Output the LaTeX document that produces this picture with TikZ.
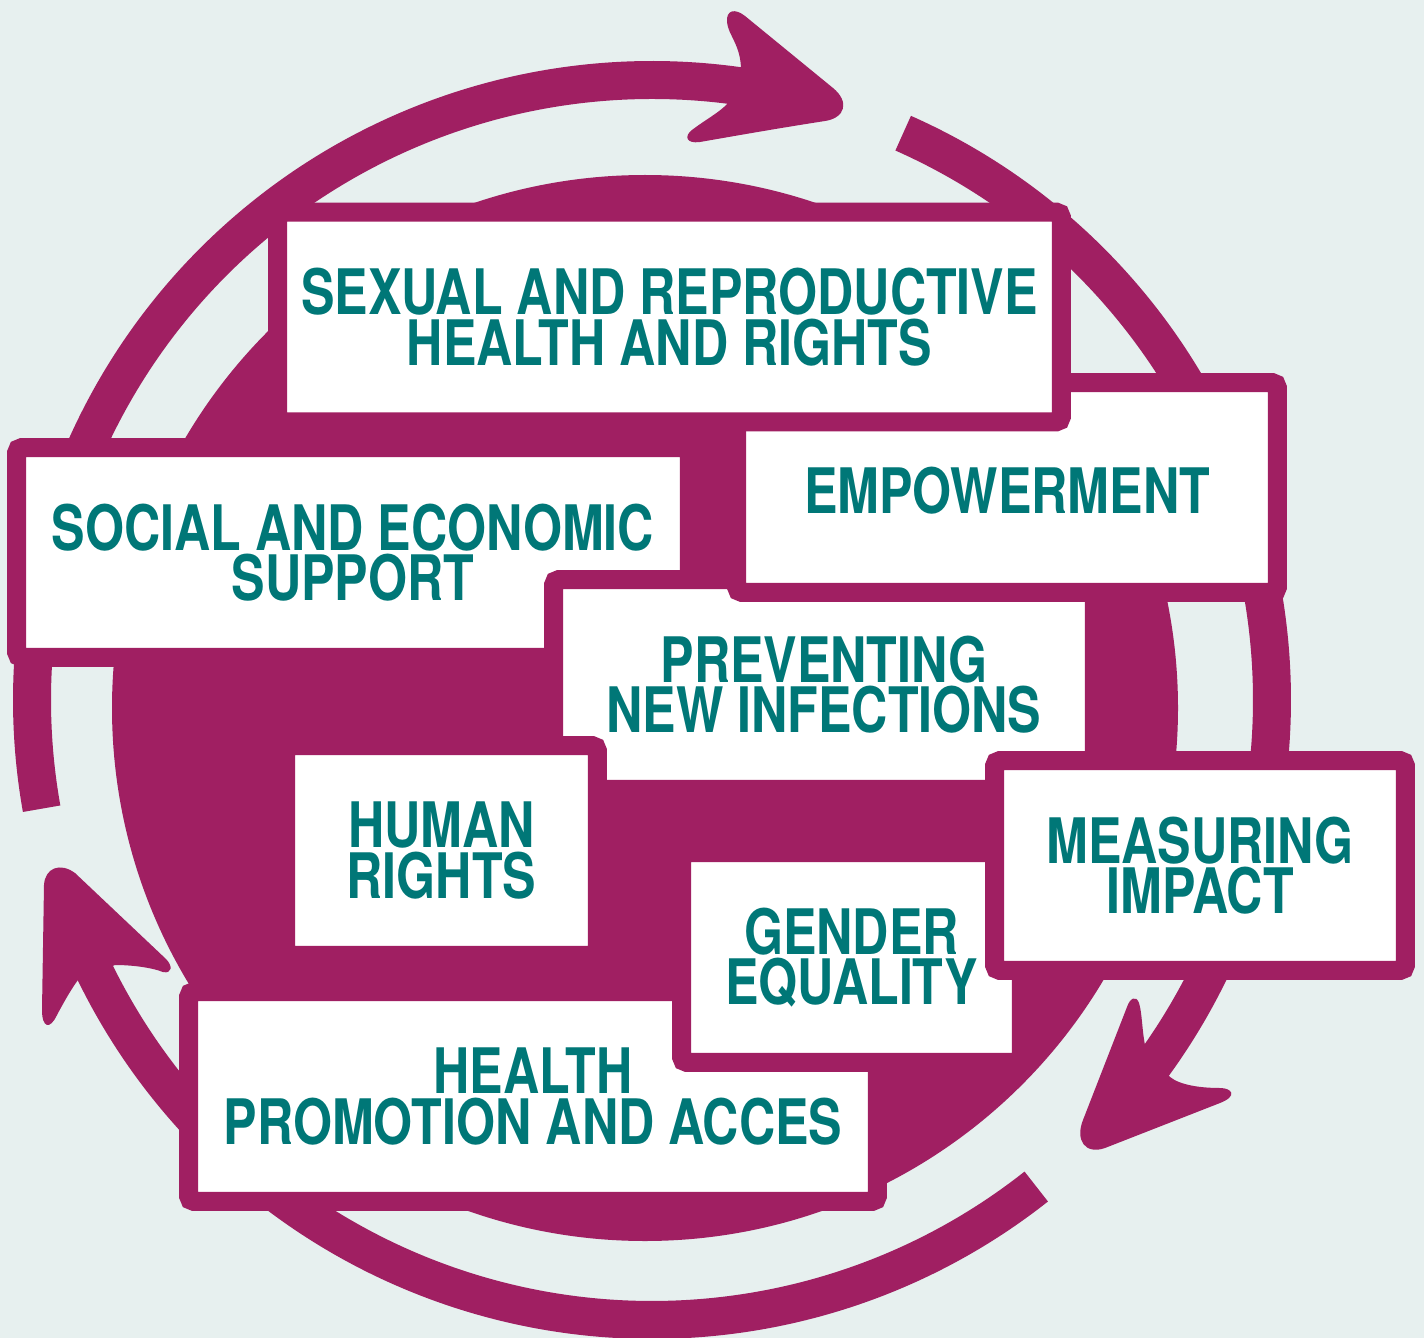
\documentclass[tikz,border=0pt]{standalone}
\usepackage{fontspec}
\newfontfamily\stencilfont{TeX Gyre Heros}[FakeStretch=0.8]
\usetikzlibrary{positioning}
\definecolor{plum}{RGB}{160,31,98}
\definecolor{labelteal}{RGB}{0,119,119}
\definecolor{paper}{RGB}{231,240,239}
\tikzset{
  cyclearc/.style={draw=plum,line width=0.76cm,line cap=butt},
  themebox/.style={draw=plum,fill=white,line width=0.38cm,rounded corners=0.11cm,
    minimum height=4.2cm,align=center,inner sep=0pt,text=labelteal,
    font=\stencilfont\bfseries\fontsize{35.7}{28.7}\selectfont,
    execute at begin node={\rule{0pt}{1.07cm}}}
}
\begin{document}
\begin{tikzpicture}[x=0.02cm,y=-0.02cm]
  \fill[paper] (0,0) rectangle (1424,1338); % 背景
  \useasboundingbox (0,0) rectangle (1424,1338);
  \fill[plum] (645,708) circle[radius=533]; % 中央の円盤
  % 円環の矢印（3本）
  \draw[cyclearc] (652,700) ++(-190.1:620) arc[start angle=-190.1,end angle=-80,radius=620]; % 左から上へ
  \draw[cyclearc] (652,700) ++(-66.1:620) arc[start angle=-66.1,end angle=38,radius=620]; % 右側
  \draw[cyclearc] (652,700) ++(51.7:620) arc[start angle=51.7,end angle=156,radius=620]; % 下側
  \fill[plum] (741,70) .. controls (741,45) and (728,35) .. (727,22)
    .. controls (726,10) and (735,8) .. (745,16) -- (833,88)
    .. controls (850,102) and (845,118) .. (825,121)
    .. controls (780,128) and (740,135) .. (700,142)
    .. controls (686,144) and (684,136) .. (692,130)
    .. controls (705,120) and (720,112) .. (727,104) -- cycle; % 上の矢じり
  \fill[plum] (1145,1045) .. controls (1142,1030) and (1142,1012) .. (1139,1003)
    .. controls (1136,995) and (1130,998) .. (1127,1007) -- (1083,1120)
    .. controls (1075,1140) and (1085,1155) .. (1105,1148) -- (1220,1103)
    .. controls (1238,1096) and (1232,1088) .. (1220,1088)
    .. controls (1200,1088) and (1180,1085) .. (1170,1077) -- cycle; % 右下の矢じり
  \fill[plum] (115,965) .. controls (130,965) and (150,967) .. (163,972)
    .. controls (172,974) and (173,966) .. (166,959) -- (75,873)
    .. controls (60,862) and (45,868) .. (44,885) -- (42,1010)
    .. controls (42,1028) and (50,1030) .. (57,1015)
    .. controls (65,1000) and (72,988) .. (78,980) -- cycle; % 左の矢じり
  % 枠（描く順に重なる）
  \node[themebox,minimum width=13.46cm] (social) at (353,552.5) {SOCIAL AND ECONOMIC\\SUPPORT};
  \node[themebox,minimum width=10.82cm] (prevent) at (824,684.5) {PREVENTING\\NEW INFECTIONS};
  \node[themebox,minimum width=10.82cm] (empower) at (1007,487.5) {EMPOWERMENT};
  \node[themebox,minimum width=15.68cm] (srhr) at (669.5,317) {SEXUAL AND REPRODUCTIVE\\HEALTH AND RIGHTS};
  \node[themebox,minimum width=6.24cm] (rights) at (441.5,850.5) {HUMAN\\RIGHTS};
  \node[themebox,minimum width=13.78cm] (health) at (533,1096.5) {HEALTH\\PROMOTION AND ACCES};
  \node[themebox,minimum width=6.8cm] (gender) at (851.5,957.5) {GENDER\\EQUALITY};
  \node[themebox,minimum width=8.22cm] (measure) at (1200,865.5) {MEASURING\\IMPACT};
\end{tikzpicture}
\end{document}
